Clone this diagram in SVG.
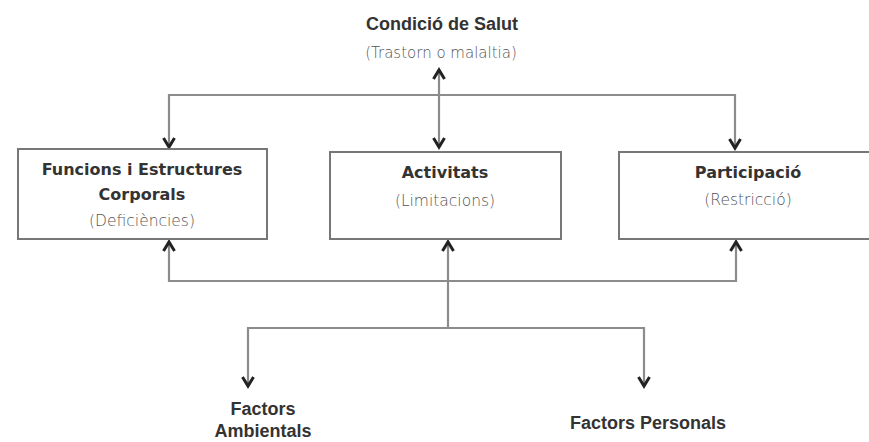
<svg xmlns="http://www.w3.org/2000/svg" width="869" height="442" viewBox="0 0 869 442">
<style>
.box{fill:#fff;stroke:#777;stroke-width:2}
.ln{fill:none;stroke:#8c8c8c;stroke-width:2.2}
.t{font-family:"DejaVu Sans",Verdana,sans-serif;font-weight:bold;font-size:16px;fill:#333;text-anchor:middle}
.s{font-family:"DejaVu Sans",Verdana,sans-serif;font-weight:200;font-size:15.5px;fill:#555;text-anchor:middle}
.c{font-family:"Liberation Sans",Arial,sans-serif;font-weight:bold;font-size:18px;fill:#333;text-anchor:middle}
.cs{font-family:"DejaVu Sans",Verdana,sans-serif;font-weight:200;font-size:15px;fill:#555;text-anchor:middle}
</style>
<defs>
<marker id="ah" viewBox="-11 -8 14 16" markerWidth="14" markerHeight="16" refX="0" refY="0" orient="auto-start-reverse" markerUnits="userSpaceOnUse">
<path d="M-9,-5.5 L0,0 L-9,5.5" fill="none" stroke="#222" stroke-width="3" stroke-linejoin="miter"/>
</marker>
</defs>
<g id="connectors">
<line class="ln" x1="439" y1="70" x2="439" y2="147" marker-start="url(#ah)" marker-end="url(#ah)"/>
<path class="ln" d="M169,147 V95 H735 V148" marker-start="url(#ah)" marker-end="url(#ah)"/>
<path class="ln" d="M169,242 V281 H736 V242" marker-start="url(#ah)" marker-end="url(#ah)"/>
<line class="ln" x1="448" y1="328" x2="448" y2="242" marker-end="url(#ah)"/>
<path class="ln" d="M248,386 V328 H644 V386" marker-start="url(#ah)" marker-end="url(#ah)"/>
</g>
<g id="condicio">
<text class="c" x="442" y="30">Condició de Salut</text>
<text class="cs" x="441" y="58">(Trastorn o malaltia)</text>
</g>
<g id="funcions">
<rect class="box" x="18" y="149" width="249" height="90"/>
<text class="t" x="142" y="175">Funcions i Estructures</text>
<text class="t" x="142" y="200">Corporals</text>
<text class="s" x="142" y="226">(Deficiències)</text>
</g>
<g id="activitats">
<rect class="box" x="330" y="152" width="231" height="87"/>
<text class="t" x="445" y="178">Activitats</text>
<text class="s" x="445" y="206">(Limitacions)</text>
</g>
<g id="participacio">
<rect class="box" x="619" y="152" width="260" height="87"/>
<text class="t" x="748" y="178">Participació</text>
<text class="s" x="748" y="205">(Restricció)</text>
</g>
<g id="ambientals">
<text class="c" x="263" y="415">Factors</text>
<text class="c" x="263" y="437">Ambientals</text>
</g>
<g id="personals">
<text class="c" x="648" y="429">Factors Personals</text>
</g>
</svg>
